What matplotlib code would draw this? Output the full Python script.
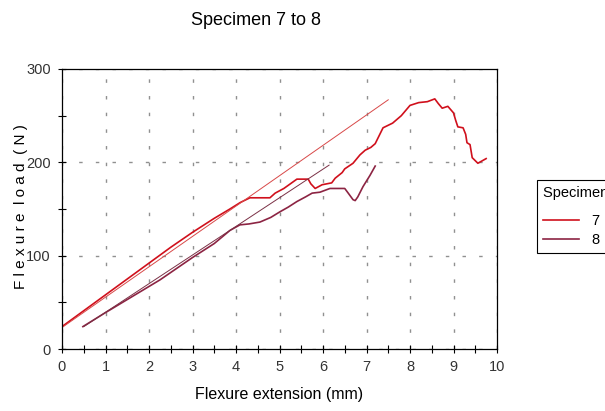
import matplotlib
matplotlib.use("Agg")
import matplotlib.pyplot as plt
from matplotlib.ticker import MultipleLocator

plt.rcParams['font.family'] = ['Liberation Sans', 'DejaVu Sans']

# specimen 7
ext_7 = [0, 0.5, 1.0, 1.5, 2.0, 2.5, 3.0, 3.5, 3.86, 4.1, 4.32, 4.78, 4.9, 5.1,
         5.4, 5.66, 5.72, 5.82, 5.98, 6.2, 6.28, 6.44, 6.5, 6.69, 6.85, 6.97,
         7.1, 7.2, 7.38, 7.6, 7.8, 8.0, 8.2, 8.4, 8.57, 8.65, 8.74, 8.87, 9.0,
         9.05, 9.1, 9.22, 9.28, 9.31, 9.38, 9.43, 9.56, 9.75]
load_7 = [24, 41, 58, 75, 92, 109, 125, 140, 150, 157, 162, 162, 167, 172,
          182, 182, 177, 172, 176, 178, 183, 189, 193, 199, 208, 213,
          216, 220, 237, 242, 250, 261, 264, 265, 268, 263, 258, 260, 253,
          245, 238, 237, 230, 221, 219, 205, 199, 204]

# specimen 8
ext_8 = [0.48, 1.0, 1.5, 2.0, 2.25, 2.5, 3.0, 3.5, 3.86, 4.09, 4.3, 4.55, 4.8,
         5.01, 5.2, 5.4, 5.6, 5.75, 5.93, 6.16, 6.35, 6.5, 6.58, 6.69, 6.74,
         6.8, 6.92, 7.08, 7.2]
load_8 = [24, 39, 53, 67, 74, 82, 98, 113, 127, 133, 134, 136, 141,
          147, 152, 158, 163, 167, 168, 172, 172, 172, 167, 160, 159,
          163, 174, 186, 196]

# modulus (tangent) lines, end points
tan_7_x = [0, 7.5]
tan_7_y = [23, 267]
tan_8_x = [0.5, 6.14]
tan_8_y = [24, 197]

red = '#d0101c'
maroon = '#8c2443'

fig = plt.figure(figsize=(6.05, 4.11), dpi=100)
ax = fig.add_axes([62/605, 62/411, 435/605, 280/411])

l7, = ax.plot(ext_7, load_7, color=red, lw=1.2, label='7')
l8, = ax.plot(ext_8, load_8, color=maroon, lw=1.2, label='8')
ax.plot(tan_7_x, tan_7_y, color='#d84848', lw=0.7)
ax.plot(tan_8_x, tan_8_y, color='#7a3045', lw=0.7)

ax.set_xlim(0, 10)
ax.set_ylim(0, 300)
ax.xaxis.set_major_locator(MultipleLocator(1))
ax.xaxis.set_minor_locator(MultipleLocator(0.5))
ax.yaxis.set_major_locator(MultipleLocator(100))
ax.yaxis.set_minor_locator(MultipleLocator(50))
ax.tick_params(which='both', direction='inout', length=6, width=0.8,
               labelsize=10.5, labelcolor='#333333', pad=5)
ax.grid(True, which='major', color='#909090', lw=1, linestyle=(0, (2.5, 9.5)))
for s in ax.spines.values():
    s.set_linewidth(0.9)

ax.set_xlabel('Flexure extension (mm)', fontsize=11.5, labelpad=9)
# spaced-out y label, placed by hand so it is not cut at the left edge
fig.text(21/605, 1 - 207/411, 'F l e x u r e  l o a d  ( N )', rotation=90,
         ha='center', va='center', fontsize=11)
fig.text(0.423, 0.95, 'Specimen 7 to 8', ha='center', va='center', fontsize=13)

leg = fig.legend(handles=[l7, l8], title='Specimen #', loc='upper left',
                 bbox_to_anchor=(537/605, 1 - 180/411), fontsize=10.5,
                 title_fontsize=10.5, handlelength=2.45, handletextpad=0.9,
                 fancybox=False, edgecolor='black', framealpha=1,
                 borderaxespad=0, borderpad=0.4, labelspacing=0.35)
leg._legend_box.align = 'left'
leg._legend_box.sep = 10
leg.get_frame().set_linewidth(0.8)

fig.savefig('out.png', dpi=100)
